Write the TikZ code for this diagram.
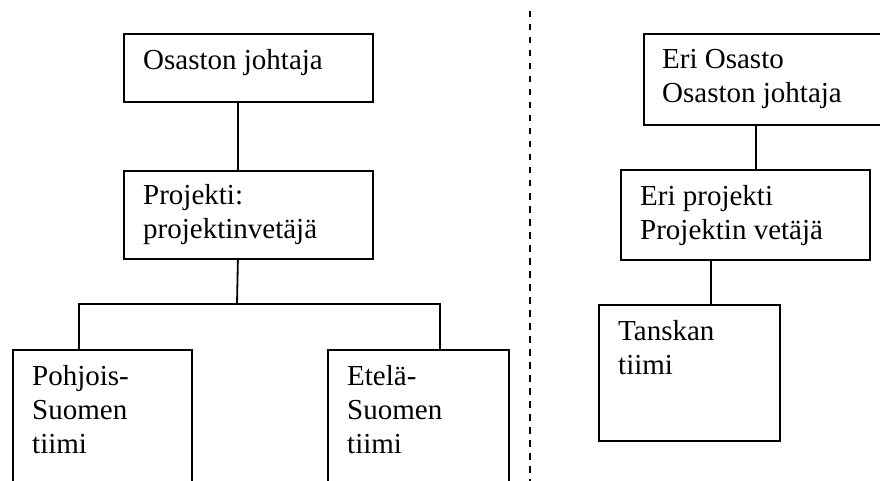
\documentclass[tikz,border=0pt]{standalone}
\usepackage{fontspec}
\setmainfont{Liberation Serif}
\begin{document}
\begin{tikzpicture}[x=1pt,y=-1pt,
  box/.style={draw, line width=1.8pt, rectangle, inner sep=0pt, anchor=north west},
  % multi-line labels are placed by the baseline of their last line
  txt/.style={anchor=base west, inner sep=0pt, align=left,
    font=\fontsize{29}{34}\selectfont},
  link/.style={line width=1.8pt}]
\useasboundingbox (0,0) rectangle (880,481);
\clip (0,0) rectangle (880,481);

% left chart
\node[box, minimum width=249pt, minimum height=68pt] (dep) at (123,33) {};
\node[box, minimum width=249pt, minimum height=88pt] (proj) at (123,170) {};
\node[box, minimum width=179pt, minimum height=160pt] (north) at (12,349) {};
\node[box, minimum width=181pt, minimum height=160pt] (south) at (327,349) {};
\node[txt] (depT) at (143,70) {Osaston johtaja};
\node[txt] (projT) at (143,238) {Projekti:\\projektinvetäjä};
\node[txt] (northT) at (32,453) {Pohjois-\\Suomen\\tiimi};
\node[txt] (southT) at (347,453) {Etelä-\\Suomen\\tiimi};

\coordinate (bar) at (237,304);
\draw[link] ([xshift=-10.5pt]dep.south) -- ([xshift=-10.5pt]dep.south |- proj.north);
\draw[link] ([xshift=-10.5pt]proj.south) -- (bar);
\draw[link] ([xshift=67pt]north.north west) -- ([xshift=67pt]north.north west |- bar)
  -- ([xshift=113pt]south.north west |- bar) -- ([xshift=113pt]south.north west);

% divider
\coordinate (divTop) at (530,11);
\coordinate (divBot) at (530,481);
\draw[line width=1.8pt, dash pattern=on 6.5pt off 6.5pt] (divTop) -- (divBot);

% right chart
\node[box, minimum width=250pt, minimum height=91pt] (dep2) at (643,33) {};
\node[box, minimum width=249pt, minimum height=90pt] (proj2) at (620,169) {};
\node[box, minimum width=181pt, minimum height=136pt] (team) at (598,304) {};
\node[txt] (dep2T) at (662,103) {Eri Osasto\\Osaston johtaja};
\node[txt] (proj2T) at (640,239) {Eri projekti\\Projektin vetäjä};
\node[txt] (teamT) at (618,374) {Tanskan\\tiimi};

\draw[link] ([xshift=113pt]dep2.south west) -- ([xshift=113pt]dep2.south west |- proj2.north);
\draw[link] ([xshift=91pt]proj2.south west) -- ([xshift=91pt]proj2.south west |- team.north);
\end{tikzpicture}
\end{document}
